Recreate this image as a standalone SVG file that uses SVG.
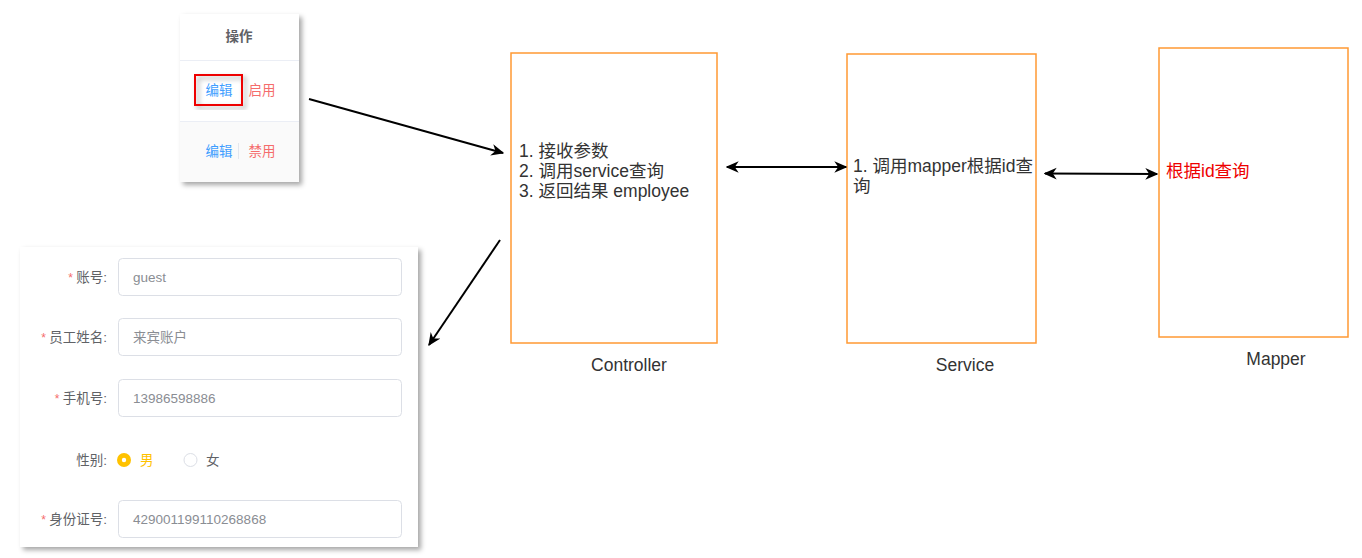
<svg xmlns="http://www.w3.org/2000/svg" width="1362" height="558" viewBox="0 0 1362 558">
<defs>
<filter id="sh" x="-10%" y="-10%" width="125%" height="125%">
<feDropShadow dx="3" dy="3" stdDeviation="2.5" flood-color="#000" flood-opacity="0.35"/>
</filter>
<marker id="ah" viewBox="0 0 10 10" refX="9" refY="5" markerWidth="13" markerHeight="13" markerUnits="userSpaceOnUse" orient="auto-start-reverse">
<path d="M0,0.5 L10,5 L0,9.5 L3,5 Z" fill="#000"/>
</marker>
<style>
.box{fill:#fff;stroke:#FF9933;stroke-width:1.5}
.t{font-family:"Liberation Sans","Noto Sans CJK SC",sans-serif;font-size:17.5px;fill:#333}
.red{fill:#E00}
.ui{font-family:"Liberation Sans","Noto Sans CJK SC",sans-serif;font-size:13.5px}
.lbl{fill:#606266;text-anchor:end}
.star{fill:#F56C6C}
.val{fill:#8a8d93}
.inp{fill:#fff;stroke:#DCDFE6;stroke-width:1}
.con{fill:none;stroke:#000;stroke-width:2}
</style>
</defs>
<rect width="1362" height="558" fill="#fff"/>

<g id="ops-panel">
<rect x="180" y="14" width="119" height="168" fill="#fff" filter="url(#sh)"/>
<rect x="180" y="121" width="119" height="61" fill="#fafafa"/>
<line x1="180" y1="60.5" x2="299" y2="60.5" stroke="#EBEEF5"/>
<line x1="180" y1="121.5" x2="299" y2="121.5" stroke="#EBEEF5"/>
<text class="ui" x="239" y="41" text-anchor="middle" font-weight="bold" fill="#606266" font-size="14px">操作</text>
<rect x="195" y="75" width="47" height="30" fill="none" stroke="#E00" stroke-width="2" filter="url(#sh)"/>
<text class="ui" x="219" y="95" text-anchor="middle" fill="#409EFF">编辑</text>
<text class="ui" x="262" y="95" text-anchor="middle" fill="#F56C6C">启用</text>
<text class="ui" x="219" y="156" text-anchor="middle" fill="#409EFF">编辑</text>
<line x1="238.5" y1="143" x2="238.5" y2="159" stroke="#E4E7ED"/>
<text class="ui" x="262" y="156" text-anchor="middle" fill="#F56C6C">禁用</text>
</g>

<g id="form-panel">
<rect x="20" y="247" width="398" height="300" fill="#fff" filter="url(#sh)"/>
<text class="ui" x="107" y="282" text-anchor="end"><tspan class="star" font-size="12px">* </tspan><tspan fill="#606266">账号:</tspan></text>
<rect class="inp" x="118.5" y="258.5" width="283" height="37" rx="4"/>
<text class="ui val" x="133" y="282">guest</text>
<text class="ui" x="107" y="342" text-anchor="end"><tspan class="star" font-size="12px">* </tspan><tspan fill="#606266">员工姓名:</tspan></text>
<rect class="inp" x="118.5" y="318.5" width="283" height="37" rx="4"/>
<text class="ui val" x="133" y="342">来宾账户</text>
<text class="ui" x="107" y="403" text-anchor="end"><tspan class="star" font-size="12px">* </tspan><tspan fill="#606266">手机号:</tspan></text>
<rect class="inp" x="118.5" y="379.5" width="283" height="37" rx="4"/>
<text class="ui val" x="133" y="403">13986598886</text>
<text class="ui lbl" x="107" y="465">性别:</text>
<circle cx="124" cy="460" r="7" fill="#FFC200"/>
<circle cx="124" cy="460" r="2.2" fill="#fff"/>
<text class="ui" x="140" y="465" fill="#FFC200">男</text>
<circle cx="190.5" cy="460" r="6.5" fill="#fff" stroke="#DCDFE6"/>
<text class="ui" x="206" y="465" fill="#606266">女</text>
<text class="ui" x="107" y="524" text-anchor="end"><tspan class="star" font-size="12px">* </tspan><tspan fill="#606266">身份证号:</tspan></text>
<rect class="inp" x="118.5" y="500.5" width="283" height="37" rx="4"/>
<text class="ui val" x="133" y="524">429001199110268868</text>
</g>

<g id="controller">
<rect class="box" x="511" y="53" width="206" height="290"/>
<text class="t" x="519" y="157">1. 接收参数</text>
<text class="t" x="519" y="177">2. 调用service查询</text>
<text class="t" x="519" y="197">3. 返回结果 employee</text>
<text class="t" x="629" y="371" text-anchor="middle">Controller</text>
</g>

<g id="service">
<rect class="box" x="847" y="54" width="189" height="289"/>
<text class="t" x="853" y="172">1. 调用mapper根据id查</text>
<text class="t" x="853" y="192">询</text>
<text class="t" x="965" y="371" text-anchor="middle">Service</text>
</g>

<g id="mapper">
<rect class="box" x="1159" y="48" width="189" height="289"/>
<text class="t red" x="1166" y="177">根据id查询</text>
<text class="t" x="1276" y="365" text-anchor="middle">Mapper</text>
</g>

<g id="connectors">
<line class="con" x1="309" y1="99" x2="503" y2="153" marker-end="url(#ah)"/>
<line class="con" x1="727" y1="167" x2="846" y2="167" marker-start="url(#ah)" marker-end="url(#ah)"/>
<line class="con" x1="1045" y1="173.5" x2="1157" y2="174" marker-start="url(#ah)" marker-end="url(#ah)"/>
<line class="con" x1="500" y1="240" x2="429" y2="345" marker-end="url(#ah)"/>
</g>
</svg>
